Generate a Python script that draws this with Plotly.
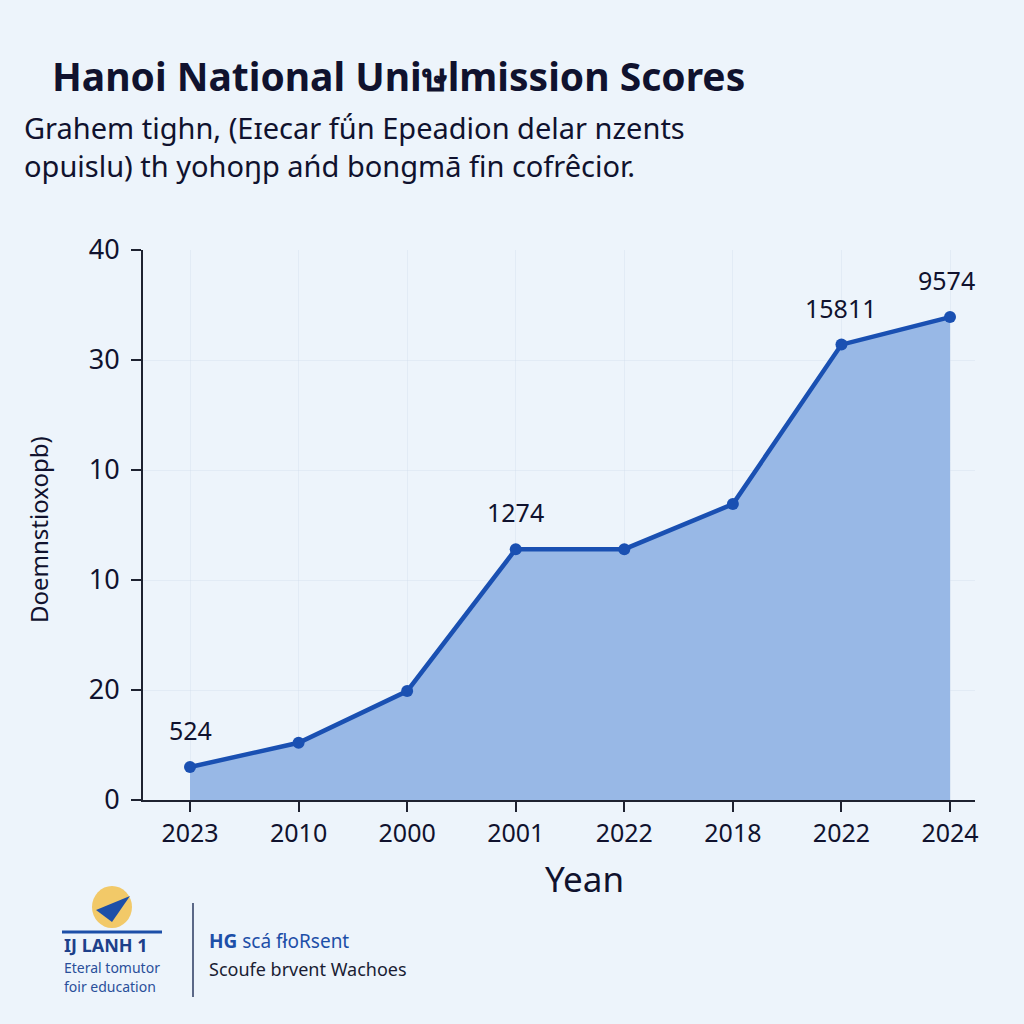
import plotly.graph_objects as go

# ---- data ----
year_labels = ["2023", "2010", "2000", "2001", "2022", "2018", "2022", "2024"]
scores = [3.0, 5.2, 9.9, 22.8, 22.8, 26.9, 41.4, 43.9]
point_labels = ["524", "", "", "1274", "", "", "15811", "9574"]
y_tick_vals = [0, 10, 20, 30, 40, 50]
y_tick_text = ["0", "20", "10", "10", "30", "40"]

x_pos = list(range(len(year_labels)))

BG = "#edf4fb"
LINE = "#1a50b2"
FILL = "#98b8e6"
DARK = "#10122e"
FONT = "Noto Sans"

# plot area in page pixels
L, R, T, B = 143, 975, 250, 800
W, H = R - L, B - T


def px(xp):
    return (xp - L) / W


def py(yp):
    return (B - yp) / H


fig = go.Figure()
fig.add_trace(go.Scatter(
    x=x_pos, y=scores, mode="lines+markers",
    line=dict(color=LINE, width=4.5),
    marker=dict(color=LINE, size=12),
    fill="tozeroy", fillcolor=FILL,
    hoverinfo="skip", showlegend=False,
))

# value labels
label_offsets = {0: 0, 3: 0, 6: 0, 7: -4}
for i, t in enumerate(point_labels):
    if t:
        fig.add_annotation(
            x=x_pos[i], y=scores[i], text=t, showarrow=False,
            xref="x", yref="y", yshift=37, xshift=label_offsets.get(i, 0),
            font=dict(family=FONT, size=25, color=DARK),
        )

fig.update_layout(
    width=1024, height=1024,
    paper_bgcolor=BG, plot_bgcolor=BG,
    margin=dict(l=L, r=1024 - R, t=T, b=1024 - B),
    font=dict(family=FONT, color=DARK),
    xaxis=dict(
        range=[-0.433, 7.23], tickmode="array", tickvals=x_pos, ticktext=year_labels,
        showline=True, linecolor="#1e2230", linewidth=2,
        ticks="outside", ticklen=10, tickcolor="#1e2230", tickwidth=1.5,
        tickfont=dict(family=FONT, size=25, color=DARK),
        showgrid=True, gridcolor="rgba(205,218,236,0.35)", gridwidth=1,
        zeroline=False,
    ),
    yaxis=dict(
        range=[0, 50], tickmode="array", tickvals=y_tick_vals, ticktext=y_tick_text,
        showline=True, linecolor="#1e2230", linewidth=2,
        ticks="outside", ticklen=10, tickcolor="#1e2230", tickwidth=1.5,
        tickfont=dict(family=FONT, size=27, color=DARK),
        ticklabelstandoff=6,
        showgrid=True, gridcolor="rgba(205,218,236,0.35)", gridwidth=1,
        zeroline=False,
    ),
)

# axis titles
fig.add_annotation(xref="paper", yref="paper", x=px(38), y=py(530),
                   xanchor="center", yanchor="middle", showarrow=False, textangle=-90,
                   text="Doemnstioxopb)", font=dict(family=FONT, size=24, color=DARK))
fig.add_annotation(xref="paper", yref="paper", x=px(584), y=py(878),
                   xanchor="center", yanchor="middle", showarrow=False,
                   text="Yean", font=dict(family=FONT, size=35, color=DARK))

# title & subtitle
fig.add_annotation(xref="paper", yref="paper", x=px(50), y=py(76), xanchor="left", yanchor="middle",
                   showarrow=False,
                   text="<b>Hanoi National Uniษlmission Scores</b>",
                   font=dict(family=FONT, size=39, color=DARK))
fig.add_annotation(xref="paper", yref="paper", x=px(22), y=py(128), xanchor="left", yanchor="middle",
                   showarrow=False,
                   text="Grahem tighn, (Eɪecar fǘn Epeadion delar nzents",
                   font=dict(family=FONT, size=29, color=DARK))
fig.add_annotation(xref="paper", yref="paper", x=px(22), y=py(166), xanchor="left", yanchor="middle",
                   showarrow=False,
                   text="opuislu) th yohoŋp ańd bongmā fin cofrêcior.",
                   font=dict(family=FONT, size=29, color=DARK))

# footer logo area
fig.add_shape(type="line", xref="paper", yref="paper",
              x0=px(193), x1=px(193), y0=py(903), y1=py(997),
              line=dict(color="#2a3a60", width=1.5))
fig.add_shape(type="line", xref="paper", yref="paper",
              x0=px(62), x1=px(162), y0=py(932), y1=py(932),
              line=dict(color="#1d4fa8", width=3))
fig.add_shape(type="circle", xref="paper", yref="paper",
              x0=px(92), x1=px(132), y0=py(928), y1=py(886),
              fillcolor="#f2c14e", line=dict(width=0), opacity=0.85)
fig.add_shape(type="path", xref="paper", yref="paper",
              path="M {} {} L {} {} L {} {} Z".format(
                  px(96), py(910), px(130), py(896), px(112), py(922)),
              fillcolor="#1d4fa8", line=dict(width=0))

footer = [
    (62, 945, "<b>IJ LANH 1</b>", 18, "#1d3f8a"),
    (62, 967, "Eteral tomutor", 14, "#2a4f9a"),
    (62, 986, "foir education", 14, "#2a4f9a"),
    (207, 941, "<b>HG</b> scá fłoRsent", 19, "#1d4fa8"),
    (207, 969, "Scoufe brvent Wachoes", 18, "#1a1d33"),
]
for fx, fy, txt, sz, col in footer:
    fig.add_annotation(xref="paper", yref="paper",
                       x=px(fx), y=py(fy),
                       xanchor="left", yanchor="middle", showarrow=False,
                       text=txt, font=dict(family=FONT, size=sz, color=col))

fig.write_html(
    "out.html",
    config={"displayModeBar": False},
    post_script="document.body.style.margin='0';document.body.style.background='#edf4fb';document.body.style.overflow='hidden';",
)
